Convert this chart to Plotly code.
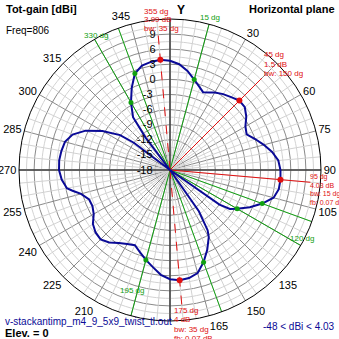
import plotly.graph_objects as go
import numpy as np

# ---------------- data ----------------
theta_deg = [0, 5, 10, 15, 20, 23, 27, 30, 35, 40, 45, 50, 55, 60, 65, 70, 75, 80, 85, 90,
             95, 100, 105, 110, 115, 120, 123, 125, 128, 135, 143, 145, 148, 150, 155, 160,
             165, 170, 175, 180, 185, 190, 195, 200, 205, 210, 215, 220, 225, 230, 235, 240,
             245, 250, 255, 258, 260, 265, 270, 275, 280, 285, 290, 295, 300, 305, 307, 310,
             315, 321, 323, 325, 330, 335, 340, 345, 350, 355]
gain_dbi = [3.7, 3.1, 2.0, 0.6, -0.6, -1.2, -0.7, -0.2, 0.4, 0.9, 1.5, 1.4, 0.5, -0.7, -1.2, 0.0, 1.3, 2.6, 3.6, 3.95,
            4.03, 3.95, 3.3, 1.5, -0.5, -2.6, -3.8, -6.0, -18.0, -48.0, -18.0, -8.0, -3.9, -2.6, -0.5, 1.5,
            3.2, 3.8, 4.0, 3.7, 2.9, 1.6, 0.5, -0.6, -1.5, -1.0, -0.3, 0.8, 1.5, 1.3, 0.7, -0.5,
            -1.0, -0.9, 0.3, 1.8, 2.8, 3.6, 4.05, 4.1, 3.9, 3.6, 2.6, 0.5, -2.5, -5.9, -9.0, -18.0,
            -48.0, -18.0, -10.0, -5.2, -2.5, 0.0, 2.4, 3.5, 3.8, 3.99]

ring_vals = [-18, -15, -12, -9, -6, -3, 0, 3, 6, 9]
angle_ticks = list(range(0, 360, 15))
angle_labels = ["", "", "30", "", "60", "75", "90", "105", "", "135", "150", "165",
                "", "", "210", "225", "240", "255", "270", "285", "300", "315", "", "345"]

max_angles = [355, 45, 95, 175]
max_gains = [3.99, 1.5, 4.03, 4.0]
max_texts = [["355 dg", "3.99 dB", "bw: 35 dg"],
             ["45 dg", "1.5 dB", "bw: 150 dg"],
             ["95 dg", "4.03 dB", "bw: 15 dg", "fb: 0.07 dB"],
             ["175 dg", "4 dB", "bw: 35 dg", "fb: 0.07 dB"]]
bw_angles = [330, 340, 15, 110, 120, 160, 195]
bw_labels = {330: "330 dg", 15: "15 dg", 120: "120 dg", 195: "195 dg"}

R_MIN, R_MAX = -18, 12
W = H = 339
CX, CY, RAD = 170, 170, 151

FONT = "Liberation Sans"
DARK = "#8a8a8a"
LIGHT = "#d2d2d2"
BLUE = "#0a0a96"
RED = "#e01010"
GREEN = "#10a010"

fig = go.Figure()

# minor grid (angular, every 5 deg)
for a in range(0, 360, 5):
    if a % 15:
        fig.add_trace(go.Scatterpolar(r=[R_MIN, R_MAX], theta=[a, a], mode="lines",
                                      line=dict(color=LIGHT, width=1), hoverinfo="skip", showlegend=False))
# minor rings (every 1.5 dB)
circ = np.arange(0, 361, 2)
for rv in np.arange(R_MIN + 1.5, R_MAX, 3.0):
    fig.add_trace(go.Scatterpolar(r=[rv] * len(circ), theta=circ, mode="lines",
                                  line=dict(color=LIGHT, width=1), hoverinfo="skip", showlegend=False))
# main axes X / Y
for a in (0, 90):
    fig.add_trace(go.Scatterpolar(r=[R_MAX, R_MIN, R_MAX], theta=[a, a, a + 180], mode="lines",
                                  line=dict(color="#404040", width=1.5), hoverinfo="skip", showlegend=False))

# beamwidth (green) lines
for a in bw_angles:
    fig.add_trace(go.Scatterpolar(r=[R_MIN, R_MAX], theta=[a, a], mode="lines",
                                  line=dict(color=GREEN, width=1), hoverinfo="skip", showlegend=False))

# max direction (red) lines, running out to their labels
red_line_end = {355: 9.8, 45: 7.8, 95: 10.0, 175: 9.0}
for a in max_angles:
    dash = "dash" if a in (355, 175) else "solid"
    fig.add_trace(go.Scatterpolar(r=[R_MIN, red_line_end[a]], theta=[a, a], mode="lines",
                                  line=dict(color=RED, width=1, dash=dash), hoverinfo="skip", showlegend=False))

# pattern
th = np.array(theta_deg + [theta_deg[0]], dtype=float)
g = np.clip(np.array(gain_dbi + [gain_dbi[0]], dtype=float), R_MIN, R_MAX)
fig.add_trace(go.Scatterpolar(r=g, theta=th, mode="lines", line=dict(color=BLUE, width=2),
                              hoverinfo="skip", showlegend=False))

# green dots on pattern at beamwidth angles
ext = np.concatenate([th - 360, th[1:], th[1:] + 360])
gext = np.concatenate([g, g[1:], g[1:]])
order = np.argsort(ext)
bw_r = [float(np.interp(a, ext[order], gext[order])) for a in bw_angles]
fig.add_trace(go.Scatterpolar(r=bw_r, theta=bw_angles, mode="markers",
                              marker=dict(color=GREEN, size=5), hoverinfo="skip", showlegend=False))
# red dots at maxima
fig.add_trace(go.Scatterpolar(r=max_gains, theta=max_angles, mode="markers",
                              marker=dict(color=RED, size=6), hoverinfo="skip", showlegend=False))

NB = "\u00a0"
fig.update_layout(
    width=W, height=H, margin=dict(l=0, r=0, t=0, b=0),
    paper_bgcolor="white", plot_bgcolor="white",
    polar=dict(
        domain=dict(x=[(CX - RAD) / W, (CX + RAD) / W], y=[(H - CY - RAD) / H, (H - CY + RAD) / H]),
        bgcolor="white",
        angularaxis=dict(rotation=90, direction="clockwise", tickmode="array",
                         tickvals=angle_ticks, ticktext=angle_labels, showgrid=True,
                         gridcolor=DARK, gridwidth=1, showline=True, linecolor="black", linewidth=1,
                         ticks="", tickfont=dict(family=FONT, size=11, color="black")),
        radialaxis=dict(range=[R_MIN, R_MAX], tickmode="array", tickvals=ring_vals,
                        ticktext=[str(v) + NB * (4 if len(str(v)) < 2 else 5) for v in ring_vals],
                        angle=90, tickangle=90,
                        side="counterclockwise", showgrid=True, gridcolor=DARK, gridwidth=1,
                        showline=False, ticks="", tickfont=dict(family=FONT, size=11, color="black")),
    ),
)

def px(x, y):
    return x / W, 1 - y / H

annots = []
def txt(x, y, s, color="black", size=10, bold=False, xanchor="left"):
    xp, yp = px(x, y)
    annots.append(dict(x=xp, y=yp, xref="paper", yref="paper", text=("<b>%s</b>" % s) if bold else s,
                       showarrow=False, xanchor=xanchor, yanchor="middle",
                       font=dict(family=FONT, size=size, color=color)))

txt(4, 9, "Tot-gain [dBi]", bold=True, size=11)
txt(337, 9, "Horizontal plane", bold=True, size=11, xanchor="right")
txt(4, 30, "Freq=806", size=10)
txt(175, 10, "Y", bold=True, size=12)
txt(3, 321, "v-stackantimp_m4_9_5x9_twist_tl.out", color=BLUE, size=10)
txt(3, 333, "Elev. = 0", bold=True, size=11)
txt(337, 326, "-48 &lt; dBi &lt; 4.03", color=BLUE, size=10, xanchor="right")

# red labels
red_pos = {355: (142, 11, 9, 8), 45: (262, 54, 10, 8), 95: (308, 177, 8.5, 7), 175: (172, 310, 9.5, 8)}
for a, lines in zip(max_angles, max_texts):
    x0, y0, dy, fs = red_pos[a]
    for i, s in enumerate(lines):
        txt(x0, y0 + i * dy, s, color=RED, size=fs)
# green labels
green_pos = {330: (82, 35), 15: (198, 18), 120: (288, 238), 195: (118, 290)}
for a, s in bw_labels.items():
    x0, y0 = green_pos[a]
    txt(x0, y0, s, color=GREEN, size=8)

fig.update_layout(annotations=annots)
fig.write_html("out.html")
